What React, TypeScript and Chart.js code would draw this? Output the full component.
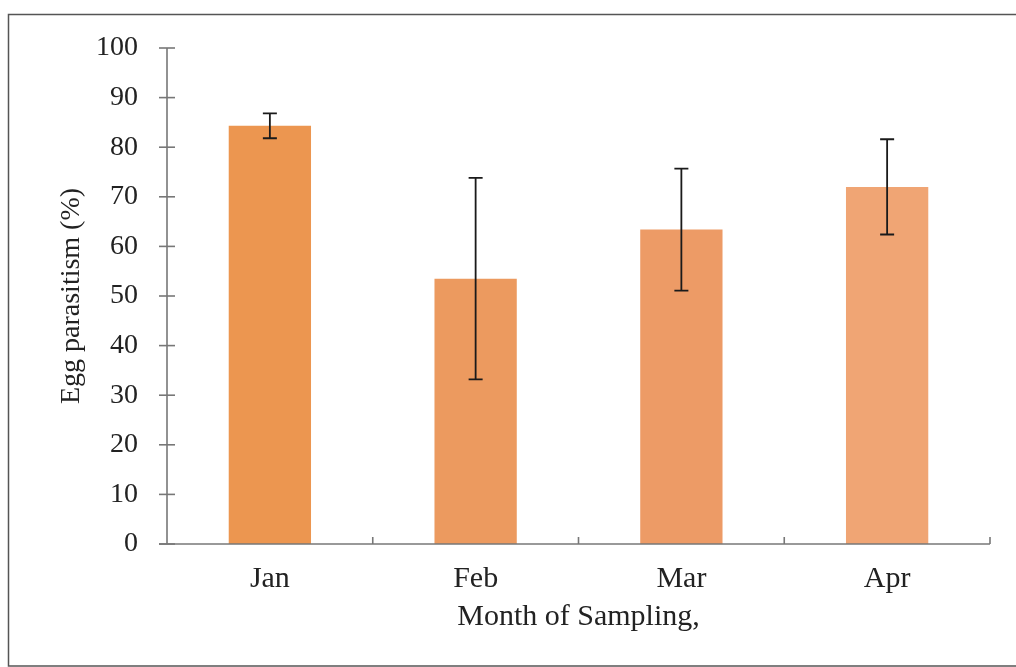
import React, { useEffect, useRef } from 'react';
import { Chart, registerables } from 'chart.js';

Chart.register(...registerables);

const months = ['Jan', 'Feb', 'Mar', 'Apr'];
const parasitism = [84.3, 53.5, 63.4, 72.0];
const errorSize = [2.5, 20.3, 12.3, 9.6];
const barColors = ['#EC9650', '#EC9A5F', '#ED9B66', '#F0A574'];
const yMin = 0;
const yMax = 100;
const yStep = 10;

const FONT = "'Liberation Serif', 'Times New Roman', serif";

const decorPlugin = {
  id: 'decor',
  beforeDraw(chart: any) {
    const { ctx, width, height } = chart;
    ctx.save();
    ctx.fillStyle = '#ffffff';
    ctx.fillRect(0, 0, width, height);
    ctx.strokeStyle = '#555555';
    ctx.lineWidth = 1.5;
    ctx.strokeRect(8.5, 14.5, width + 20, height - 15.5);
    ctx.restore();
  },
  afterDatasetsDraw(chart: any) {
    const { ctx, chartArea } = chart;
    const xs = chart.scales.x;
    const ys = chart.scales.y;
    ctx.save();
    ctx.strokeStyle = '#777777';
    ctx.lineWidth = 1.6;
    const x0 = chartArea.left;
    const yBase = ys.getPixelForValue(yMin);
    ctx.beginPath();
    ctx.moveTo(x0, ys.getPixelForValue(yMax));
    ctx.lineTo(x0, yBase);
    ctx.stroke();
    ctx.beginPath();
    ctx.moveTo(x0 - 8, yBase);
    ctx.lineTo(chartArea.right, yBase);
    ctx.stroke();
    for (let v = yMin; v <= yMax; v += yStep) {
      const py = ys.getPixelForValue(v);
      ctx.beginPath();
      ctx.moveTo(x0 - 8, py);
      ctx.lineTo(x0 + 8, py);
      ctx.stroke();
    }
    for (let i = 0; i < months.length; i++) {
      const bx = i < months.length - 1
        ? (xs.getPixelForValue(i) + xs.getPixelForValue(i + 1)) / 2
        : chartArea.right;
      ctx.beginPath();
      ctx.moveTo(bx, yBase);
      ctx.lineTo(bx, yBase - 7);
      ctx.stroke();
    }
    const meta = chart.getDatasetMeta(0);
    ctx.strokeStyle = '#1a1a1a';
    ctx.lineWidth = 1.8;
    meta.data.forEach((bar: any, i: number) => {
      const cx = bar.x;
      const top = ys.getPixelForValue(parasitism[i] + errorSize[i]);
      const bot = ys.getPixelForValue(parasitism[i] - errorSize[i]);
      ctx.beginPath();
      ctx.moveTo(cx, top);
      ctx.lineTo(cx, bot);
      ctx.moveTo(cx - 7, top);
      ctx.lineTo(cx + 7, top);
      ctx.moveTo(cx - 7, bot);
      ctx.lineTo(cx + 7, bot);
      ctx.stroke();
    });
    ctx.restore();
  },
};

export default function App() {
  const ref = useRef<HTMLCanvasElement | null>(null);
  useEffect(() => {
    if (!ref.current) return;
    const chart = new Chart(ref.current, {
      type: 'bar',
      data: {
        labels: months,
        datasets: [
          {
            data: parasitism,
            backgroundColor: barColors,
            borderWidth: 0,
            barPercentage: 0.4,
            categoryPercentage: 1,
          },
        ],
      },
      options: {
        animation: false,
        responsive: false,
        devicePixelRatio: 1,
        layout: { padding: { left: 0, top: 48, right: 26, bottom: 0 } },
        plugins: { legend: { display: false }, tooltip: { enabled: false } },
        scales: {
          x: {
            grid: { display: false, drawTicks: false },
            border: { display: false },
            ticks: { color: '#222', font: { family: FONT, size: 30 }, padding: 17 },
            title: {
              display: true,
              text: 'Month of Sampling,',
              color: '#222',
              font: { family: FONT, size: 30 },
              padding: { top: 0, bottom: 32 },
            },
            afterFit(scale: any) {
              scale.height = 123;
            },
          },
          y: {
            min: yMin,
            max: yMax,
            grid: { display: false, drawTicks: false },
            border: { display: false },
            ticks: { stepSize: yStep, color: '#222', font: { family: FONT, size: 28 }, padding: 29 },
            title: {
              display: true,
              text: 'Egg parasitism (%)',
              color: '#222',
              font: { family: FONT, size: 28 },
              padding: { top: 55, bottom: 0 },
            },
            afterFit(scale: any) {
              scale.width = 167;
            },
          },
        },
      },
      plugins: [decorPlugin],
    });
    return () => chart.destroy();
  }, []);
  return (
    <div style={{ position: 'absolute', left: 0, top: 0, width: 1016, height: 667 }}>
      <canvas ref={ref} width={1016} height={667} />
    </div>
  );
}
